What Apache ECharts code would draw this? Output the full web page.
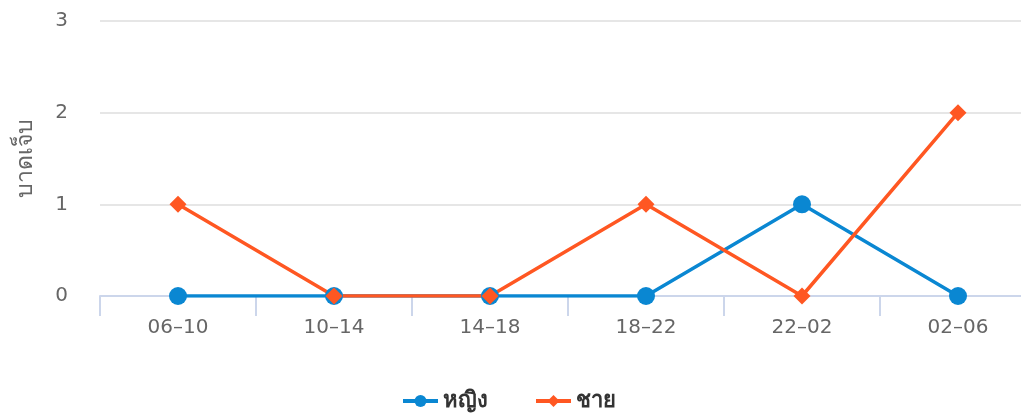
<!DOCTYPE html>
<html>
<head>
<meta charset="utf-8">
<script src="https://cdn.jsdelivr.net/npm/echarts@6/dist/echarts.min.js"></script>
<style>
  html, body { margin: 0; padding: 0; background: #fff; overflow: hidden; }
  #chart { width: 1040px; height: 417px; }
</style>
</head>
<body>
<div id="chart"></div>
<script>
var categories = ['06–10', '10–14', '14–18', '18–22', '22–02', '02–06'];
var female = [0, 0, 0, 0, 1, 0];
var male = [1, 0, 0, 1, 0, 2];
var yTicks = [0, 1, 2, 3];

var myChart = echarts.init(document.getElementById('chart'));

var option = {
    textStyle: { fontFamily: '"DejaVu Sans", "Noto Sans", sans-serif' },
    legend: {
        bottom: 0,
        left: 396,
        itemWidth: 35,
        itemHeight: 15,
        itemGap: 46,
        lineStyle: { width: 4 },
        textStyle: { fontSize: 22, fontWeight: 'bold', color: '#333' },
        data: ['หญิง', 'ชาย']
    },
    grid: {
        left: 100,
        top: 21,
        right: 4,
        height: 275,
        containLabel: false
    },
    xAxis: {
        type: 'category',
        data: categories,
        axisLine: { lineStyle: { color: '#ccd6eb', width: 2 } },
        axisTick: { show: true, length: 20, lineStyle: { color: '#ccd6eb', width: 2 } },
        axisLabel: { color: '#666', fontSize: 20, margin: 22 }
    },
    yAxis: {
        type: 'value',
        min: yTicks[0],
        max: yTicks[yTicks.length - 1],
        interval: 1,
        name: 'บาดเจ็บ',
        nameLocation: 'middle',
        nameRotate: 90,
        nameGap: 62,
        nameTextStyle: { color: '#666', fontSize: 23 },
        axisLine: { show: false },
        axisTick: { show: false },
        axisLabel: { color: '#666', fontSize: 20, margin: 32 },
        splitLine: { lineStyle: { color: '#e6e6e6', width: 2 } }
    },
    series: [
        {
            name: 'หญิง',
            type: 'line',
            data: female,
            symbol: 'circle',
            symbolSize: 18,
            itemStyle: { color: '#0a87d2' },
            lineStyle: { width: 3.5, color: '#0a87d2' }
        },
        {
            name: 'ชาย',
            type: 'line',
            data: male,
            symbol: 'diamond',
            symbolSize: 17,
            itemStyle: { color: '#ff5722' },
            lineStyle: { width: 3.5, color: '#ff5722' }
        }
    ]
};

myChart.setOption(option, true);
</script>
</body>
</html>
